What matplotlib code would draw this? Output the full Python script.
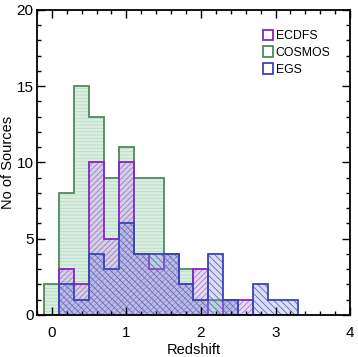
import numpy as np
import matplotlib
matplotlib.use("Agg")
import matplotlib.pyplot as plt
from matplotlib.patches import Rectangle
from matplotlib.ticker import MultipleLocator

# ---------------- data (counts per 0.2 redshift bin) ----------------
z_start = -0.1      # left edge of first bin
dz = 0.2            # bin width
cosmos = [2, 8, 15, 13, 9, 11, 9, 9, 4, 3, 1, 1, 1, 0, 0, 0, 0]
ecdfs  = [0, 3, 2, 10, 5, 10, 4, 3, 4, 2, 3, 0, 1, 1, 0, 0, 0]
egs    = [0, 2, 1, 4, 3, 6, 4, 4, 4, 2, 1, 4, 1, 0, 2, 1, 1]
fields = ["ECDFS", "COSMOS", "EGS"]

edges = z_start + dz * np.arange(len(cosmos) + 1)

plt.rcParams['font.family'] = ['Liberation Sans', 'DejaVu Sans']
plt.rcParams['hatch.linewidth'] = 0.6

fig = plt.figure(figsize=(3.58, 3.57), dpi=100)
ax = fig.add_axes([0.103, 0.118, 0.875, 0.854])

# (counts, outline, hatch colour, fill, hatch)
styles = {
    "COSMOS": (cosmos, "#4e8a5c", "#b9dcc4", "#d9eee1", "-----"),
    "ECDFS":  (ecdfs,  "#8a22c8", "#a27cc8", (0.82, 0.74, 0.93, 0.55), "//////"),
    "EGS":    (egs,    "#3a44b8", "#5a66c4", (0.55, 0.58, 0.85, 0.30), "\\\\\\\\\\"),
}

for name in ["COSMOS", "ECDFS", "EGS"]:
    counts, edge, hcol, fill, hatch = styles[name]
    ax.stairs(counts, edges, fill=True, facecolor=fill, edgecolor=hcol,
              hatch=hatch, linewidth=0)
    ax.stairs(counts, edges, color=edge, linewidth=1.3, baseline=0)

ax.set_xlim(-0.2, 4)
ax.set_ylim(0, 20)
ax.xaxis.set_major_locator(MultipleLocator(1))
ax.xaxis.set_minor_locator(MultipleLocator(0.2))
ax.yaxis.set_major_locator(MultipleLocator(5))
ax.yaxis.set_minor_locator(MultipleLocator(1))
ax.tick_params(which='both', direction='in', top=True, right=True,
               labelsize=11, width=1.0)
ax.tick_params(which='major', length=6)
ax.tick_params(which='minor', length=3)
ax.tick_params(axis='x', which='major', pad=8)
ax.tick_params(axis='y', which='major', pad=2.5)
for s in ax.spines.values():
    s.set_linewidth(1.3)

ax.set_xlabel("Redshift", fontsize=10.5)
ax.set_ylabel("No of Sources", fontsize=10.5)
ax.xaxis.set_label_coords(0.5, -0.092)
ax.yaxis.set_label_coords(-0.093, 0.5)
ax.yaxis.label.set(va='center', ha='center')

handles = [Rectangle((0, 0), 1, 1, facecolor='none',
                     edgecolor=styles[f][1], linewidth=1.3) for f in fields]
ax.legend(handles, fields, loc='upper right', frameon=False, fontsize=8.8,
          handlelength=0.8, handleheight=0.9, handletextpad=0.2,
          labelspacing=0.38, borderaxespad=1.2)

fig.savefig("out.png", dpi=100)
